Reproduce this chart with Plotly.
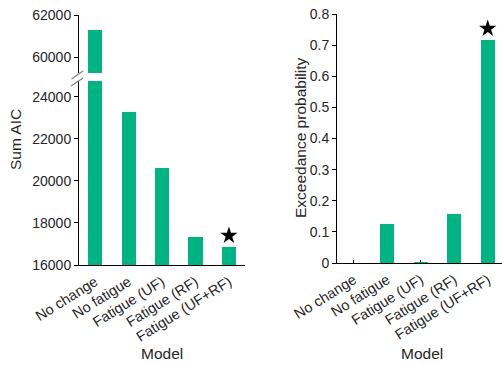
import plotly.graph_objects as go

models = ["No change", "No fatigue", "Fatigue (UF)", "Fatigue (RF)", "Fatigue (UF+RF)"]
sum_aic = [61280, 23280, 20600, 17320, 16840]
exceedance = [0.0, 0.125, 0.002, 0.158, 0.717]
best_index = 4
aic_ticks_low = [16000, 18000, 20000, 22000, 24000]
aic_ticks_high = [60000, 62000]
prob_ticks = [0, 0.1, 0.2, 0.3, 0.4, 0.5, 0.6, 0.7, 0.8]

W, H = 502, 365


def fx(px):
    return px / W


def fy(px):
    return 1 - px / H


GREEN = "#00B383"
FONT = "Liberation Sans, Arial, Helvetica, sans-serif"
TXT = "#262626"
xs = list(range(len(models)))

fig = go.Figure()
for xa, ya in (("x", "y"), ("x2", "y2")):
    fig.add_trace(go.Bar(x=xs, y=sum_aic, xaxis=xa, yaxis=ya, width=0.42,
                         marker=dict(color=GREEN, line=dict(width=0)), showlegend=False))
fig.add_trace(go.Bar(x=xs, y=exceedance, xaxis="x3", yaxis="y3", width=0.42,
                     marker=dict(color=GREEN, line=dict(width=0)), showlegend=False))

# stars over best model
fig.add_trace(go.Scatter(x=[best_index], y=[sum_aic[best_index] + 560], xaxis="x", yaxis="y",
                         mode="markers", marker=dict(symbol="star", size=13, color="black"),
                         cliponaxis=False, showlegend=False))
fig.add_trace(go.Scatter(x=[best_index], y=[exceedance[best_index] + 0.036], xaxis="x3", yaxis="y3",
                         mode="markers", marker=dict(symbol="star", size=13, color="black"),
                         cliponaxis=False, showlegend=False))

common_x = dict(showgrid=False, zeroline=False, showline=True, linecolor="black", linewidth=1,
                ticks="inside", ticklen=3, tickcolor="black", tickangle=-32,
                tickvals=xs, ticktext=models, layer="below traces", automargin=False,
                ticklabelstandoff=2,
                tickfont=dict(family=FONT, size=14.5, color=TXT))
common_y = dict(showgrid=False, zeroline=False, showline=True, linecolor="black", linewidth=1,
                ticks="outside", ticklen=4, tickcolor="black", automargin=False,
                tickfont=dict(family=FONT, size=14, color=TXT))

fig.update_layout(
    width=W, height=H, margin=dict(l=0, r=0, t=0, b=0, pad=0), autosize=False,
    paper_bgcolor="white", plot_bgcolor="white", bargap=0,
    xaxis=dict(domain=[fx(79), fx(245)], range=[-0.48, 4.48], anchor="y", **common_x),
    yaxis=dict(domain=[fy(265), fy(81)], range=[16000, 24760], anchor="x",
               tickvals=aic_ticks_low, ticktext=[str(v) for v in aic_ticks_low], **common_y),
    xaxis2=dict(domain=[fx(79), fx(245)], range=[-0.48, 4.48], anchor="y2", visible=False,
                automargin=False),
    yaxis2=dict(domain=[fy(73), fy(15)], range=[59240, 62000], anchor="x2",
                tickvals=aic_ticks_high, ticktext=[str(v) for v in aic_ticks_high], **common_y),
    xaxis3=dict(domain=[fx(337), 1.0], range=[-0.5, 4.425], anchor="y3", **common_x),
    yaxis3=dict(domain=[fy(263), fy(14)], range=[0, 0.8], anchor="x3",
                tickvals=prob_ticks, ticktext=[("%g" % v) for v in prob_ticks], **common_y),
    font=dict(family=FONT, color=TXT),
)

annos = [
    dict(text="Sum AIC", x=fx(15), y=fy(140), textangle=-90),
    dict(text="Exceedance probability", x=fx(300), y=fy(138), textangle=-90),
    dict(text="Model", x=fx(162), y=fy(353), textangle=0),
    dict(text="Model", x=fx(422), y=fy(353), textangle=0),
]
for a in annos:
    fig.add_annotation(xref="paper", yref="paper", showarrow=False, xanchor="center", yanchor="middle",
                       font=dict(family=FONT, size=15.5, color=TXT), **a)

# broken-axis marks
for (x0, y0, x1, y1) in [(71.5, 79, 83, 71), (71, 86, 83, 78)]:
    fig.add_shape(type="line", xref="paper", yref="paper", x0=fx(x0), y0=fy(y0), x1=fx(x1), y1=fy(y1),
                  line=dict(color="#7f7f7f", width=1.2))

fig.write_html("out.html")
